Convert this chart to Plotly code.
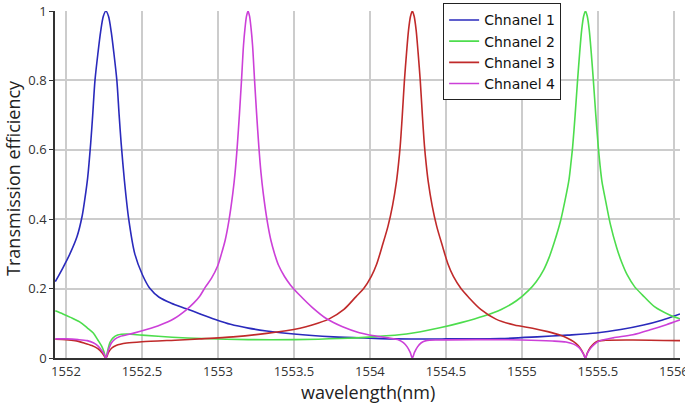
import plotly.graph_objects as go

# Channel 1 (blue)
ch1_wl = [1551.93, 1551.98, 1552.026, 1552.073, 1552.107, 1552.125, 1552.143, 1552.163, 1552.176, 1552.191,
          1552.211, 1552.228, 1552.246, 1552.263, 1552.28, 1552.298, 1552.315, 1552.335, 1552.35, 1552.363,
          1552.385, 1552.413, 1552.453, 1552.503, 1552.553, 1552.613, 1552.693, 1552.793, 1552.883, 1552.983,
          1553.083, 1553.20, 1553.32, 1553.50, 1553.76, 1554.00, 1554.15, 1554.50, 1554.86, 1555.10,
          1555.30, 1555.49, 1555.65, 1555.80, 1555.92, 1556.04]
ch1_t = [0.22, 0.26, 0.30, 0.35, 0.41, 0.46, 0.52, 0.62, 0.70, 0.80,
         0.88, 0.94, 0.985, 1.0, 0.985, 0.94, 0.88, 0.80, 0.70, 0.62,
         0.51, 0.40, 0.30, 0.24, 0.20, 0.175, 0.158, 0.142, 0.127, 0.111,
         0.097, 0.086, 0.078, 0.069, 0.061, 0.057, 0.055, 0.055, 0.056, 0.061,
         0.066, 0.072, 0.082, 0.095, 0.109, 0.127]

# Channel 2 (green)
ch2_wl = [1551.93, 1551.98, 1552.03, 1552.09, 1552.14, 1552.18, 1552.21, 1552.235, 1552.25, 1552.263,
          1552.275, 1552.29, 1552.31, 1552.34, 1552.40, 1552.50, 1552.70, 1552.90, 1553.20, 1553.50,
          1553.80, 1554.02, 1554.24, 1554.46, 1554.60, 1554.75, 1554.864, 1554.964, 1555.044, 1555.094,
          1555.144, 1555.179, 1555.214, 1555.254, 1555.284, 1555.310, 1555.322, 1555.334, 1555.350, 1555.366,
          1555.380, 1555.393, 1555.406, 1555.418, 1555.430, 1555.443, 1555.456, 1555.470, 1555.486, 1555.502,
          1555.514, 1555.526, 1555.552, 1555.582, 1555.622, 1555.657, 1555.692, 1555.742, 1555.792, 1555.872,
          1555.972, 1556.04]
ch2_t = [0.136, 0.127, 0.117, 0.104, 0.087, 0.072, 0.052, 0.034, 0.018, 0.0,
         0.022, 0.045, 0.058, 0.066, 0.069, 0.066, 0.060, 0.056, 0.053, 0.053,
         0.056, 0.061, 0.069, 0.087, 0.102, 0.121, 0.140, 0.165, 0.195, 0.220,
         0.255, 0.29, 0.335, 0.395, 0.455, 0.515, 0.56, 0.61, 0.70, 0.80,
         0.88, 0.945, 0.985, 1.0, 0.985, 0.945, 0.88, 0.80, 0.70, 0.61,
         0.555, 0.51, 0.45, 0.385, 0.32, 0.275, 0.24, 0.205, 0.182, 0.148,
         0.124, 0.113]

# Channel 3 (red)
ch3_wl = [1551.93, 1552.00, 1552.06, 1552.12, 1552.17, 1552.21, 1552.24, 1552.263, 1552.28, 1552.30,
          1552.33, 1552.40, 1552.50, 1552.75, 1552.88, 1553.10, 1553.32, 1553.54, 1553.62, 1553.729,
          1553.829, 1553.909, 1553.959, 1554.009, 1554.044, 1554.079, 1554.119, 1554.149, 1554.175, 1554.187,
          1554.199, 1554.213, 1554.227, 1554.241, 1554.254, 1554.267, 1554.279, 1554.291, 1554.304, 1554.317,
          1554.331, 1554.345, 1554.359, 1554.371, 1554.383, 1554.409, 1554.439, 1554.479, 1554.514, 1554.549,
          1554.599, 1554.649, 1554.729, 1554.829, 1554.95, 1555.07, 1555.17, 1555.25, 1555.30, 1555.34,
          1555.37, 1555.39, 1555.405, 1555.418, 1555.43, 1555.45, 1555.49, 1555.55, 1555.73, 1556.04]
ch3_t = [0.054, 0.053, 0.050, 0.043, 0.036, 0.027, 0.014, 0.0, 0.016, 0.028,
         0.036, 0.043, 0.047, 0.052, 0.055, 0.061, 0.071, 0.086, 0.095, 0.112,
         0.14, 0.177, 0.20, 0.235, 0.27, 0.32, 0.38, 0.44, 0.51, 0.555,
         0.61, 0.70, 0.80, 0.88, 0.945, 0.985, 1.0, 0.985, 0.945, 0.88,
         0.80, 0.70, 0.61, 0.555, 0.51, 0.44, 0.38, 0.32, 0.27, 0.235,
         0.20, 0.175, 0.14, 0.112, 0.095, 0.086, 0.076, 0.066, 0.057, 0.047,
         0.036, 0.024, 0.012, 0.0, 0.014, 0.030, 0.047, 0.051, 0.052, 0.050]

# Channel 4 (magenta)
ch4_wl = [1551.93, 1552.00, 1552.08, 1552.14, 1552.18, 1552.21, 1552.235, 1552.25, 1552.263, 1552.28,
          1552.30, 1552.32, 1552.355, 1552.44, 1552.53, 1552.62, 1552.71, 1552.79, 1552.84, 1552.88,
          1552.918, 1552.958, 1552.998, 1553.023, 1553.048, 1553.072, 1553.098, 1553.113, 1553.127, 1553.141,
          1553.155, 1553.168, 1553.178, 1553.188, 1553.198, 1553.208, 1553.218, 1553.228, 1553.241, 1553.255,
          1553.269, 1553.283, 1553.298, 1553.324, 1553.348, 1553.373, 1553.398, 1553.438, 1553.478, 1553.54,
          1553.62, 1553.715, 1553.82, 1553.93, 1554.03, 1554.12, 1554.19, 1554.22, 1554.245, 1554.265,
          1554.279, 1554.293, 1554.313, 1554.338, 1554.37, 1554.45, 1554.70, 1555.00, 1555.20, 1555.29,
          1555.34, 1555.37, 1555.39, 1555.405, 1555.418, 1555.43, 1555.45, 1555.48, 1555.51, 1555.60,
          1555.73, 1555.85, 1555.95, 1556.04]
ch4_t = [0.055, 0.055, 0.053, 0.050, 0.044, 0.035, 0.022, 0.012, 0.0, 0.024,
         0.044, 0.054, 0.062, 0.071, 0.082, 0.095, 0.113, 0.138, 0.158, 0.178,
         0.205, 0.23, 0.265, 0.30, 0.34, 0.395, 0.475, 0.535, 0.61, 0.70,
         0.80, 0.90, 0.95, 0.985, 1.0, 0.985, 0.95, 0.90, 0.80, 0.70,
         0.61, 0.535, 0.475, 0.395, 0.34, 0.30, 0.268, 0.235, 0.21, 0.18,
         0.146, 0.113, 0.090, 0.073, 0.064, 0.058, 0.052, 0.044, 0.032, 0.016,
         0.0, 0.016, 0.032, 0.044, 0.050, 0.052, 0.053, 0.052, 0.049, 0.046,
         0.040, 0.032, 0.022, 0.011, 0.0, 0.013, 0.027, 0.041, 0.049, 0.058,
         0.067, 0.082, 0.096, 0.11]

names = ["Chnanel 1", "Chnanel 2", "Chnanel 3", "Chnanel 4"]
colors = ["#2a2abc", "#4ddd4d", "#c02a2a", "#cc40d8"]

x_ticks = [1552, 1552.5, 1553, 1553.5, 1554, 1554.5, 1555, 1555.5, 1556]
y_ticks = [0, 0.2, 0.4, 0.6, 0.8, 1]

fig = go.Figure()
for wl, t, n, c in zip([ch1_wl, ch2_wl, ch3_wl, ch4_wl], [ch1_t, ch2_t, ch3_t, ch4_t], names, colors):
    fig.add_trace(go.Scatter(x=wl, y=t, mode="lines", name=n,
                             line=dict(color=c, width=1.6, shape="spline", smoothing=0.8)))

title_font = dict(family="Open Sans", size=18, color="#222")
fig.update_layout(
    width=685, height=403,
    margin=dict(l=55, r=5, t=11, b=45, autoexpand=False),
    paper_bgcolor="white", plot_bgcolor="white",
    font=dict(family="DejaVu Sans", size=13, color="#222"),
    legend=dict(x=0.621, y=1.022, xanchor="left", yanchor="top",
                bordercolor="#222", borderwidth=1, bgcolor="white",
                font=dict(family="DejaVu Sans", size=14, color="#111"),
                tracegroupgap=0, itemwidth=30),
    showlegend=True,
    annotations=[
        dict(text="wavelength(nm)", xref="paper", yref="paper", x=0.5008, y=-0.098,
             xanchor="center", yanchor="middle", showarrow=False, font=title_font),
        dict(text="Transmission efficiency", xref="paper", yref="paper", x=-0.0672, y=0.519,
             xanchor="center", yanchor="middle", showarrow=False, textangle=-90, font=title_font),
    ],
)
fig.update_xaxes(range=[1551.928, 1556.04], tickvals=x_ticks,
                 ticktext=[str(v) for v in x_ticks],
                 showgrid=True, gridcolor="#cccccc", gridwidth=1.5,
                 showline=True, linecolor="#333", linewidth=1.5,
                 ticks="", zeroline=False, automargin=False, ticklabelstandoff=1,
                 ticklabeloverflow="allow",
                 tickfont=dict(family="Open Sans", size=13, color="#333"))
fig.update_yaxes(range=[0, 1.0], tickvals=y_ticks,
                 ticktext=["0", "0.2", "0.4", "0.6", "0.8", "1"],
                 showgrid=True, gridcolor="#cccccc", gridwidth=1.5,
                 showline=True, linecolor="#333", linewidth=1.5,
                 ticks="outside", ticklen=4, tickcolor="#333", zeroline=False, automargin=False,
                 ticklabeloverflow="allow",
                 tickfont=dict(family="Open Sans", size=13, color="#333"))

# remove the browser's default 8px page margin so the figure fills the window
fig.write_html("out.html", config={"displayModeBar": False},
               post_script="document.body.style.margin='0';")
